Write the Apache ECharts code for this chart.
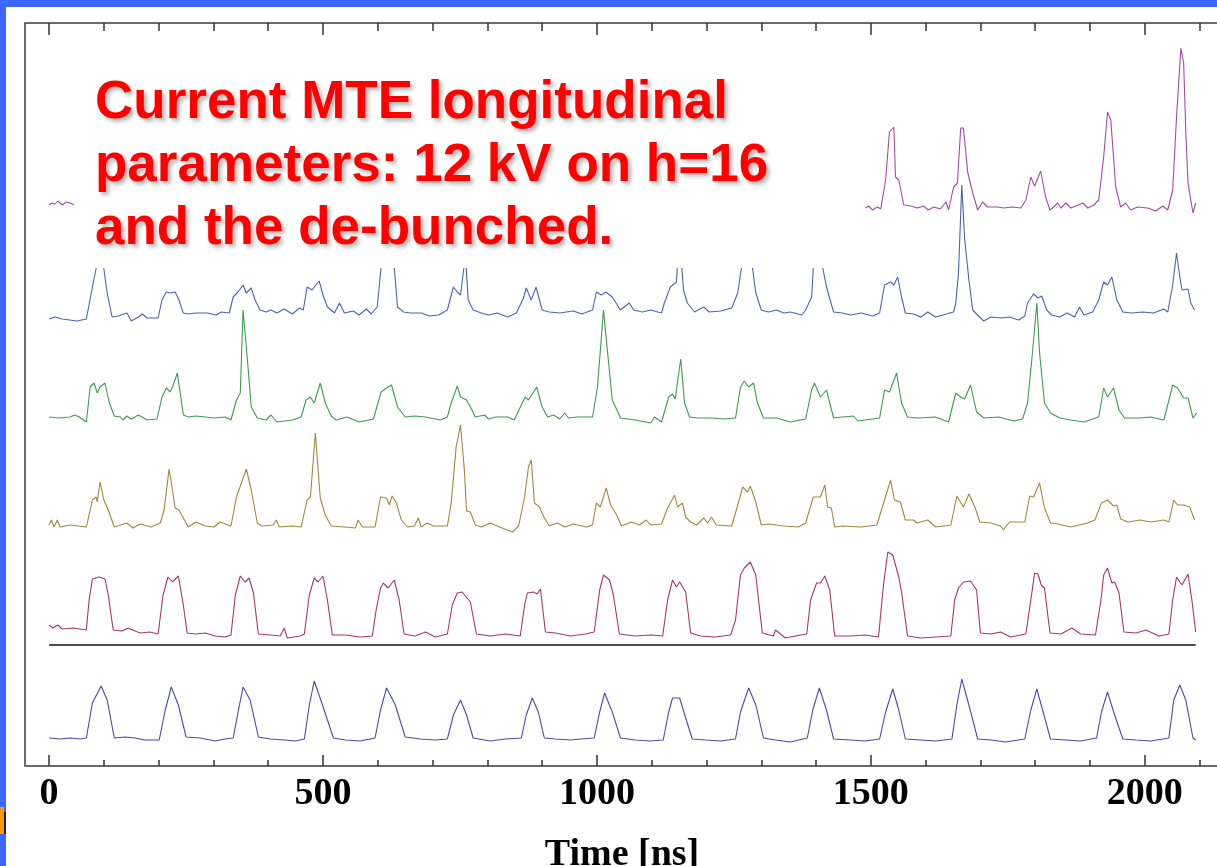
<!DOCTYPE html>
<html>
<head>
<meta charset="utf-8">
<script src="https://cdn.jsdelivr.net/npm/echarts@6/dist/echarts.min.js"></script>
<style>
html,body{margin:0;padding:0;background:#fff;}
#chart{position:absolute;left:0;top:0;width:1217px;height:866px;}
</style>
</head>
<body>
<div id="chart"></div>
<script>
// ---- axis ticks (ns) ----
const majorTicks = [0, 500, 1000, 1500, 2000];
const minorTicks = [100, 200, 300, 400, 600, 700, 800, 900, 1100, 1200, 1300, 1400, 1600, 1700, 1800, 1900, 2100, 2200];

// ---- vertical display offsets of each trace (a.u.) ----
const offsets = { t1: 2.7, sep: 12.1, t2: 13.4, t3: 24.1, t4: 34.8, t5: 45.1, t6: 55.8 };

// ---- separator line (time range) ----
const separator = [[0, 0], [2093, 0]];

// ---- trace 1 (bottom, de-bunched reference) [ns, signal] ----
const trace1 = [[0,0.1],[20,0],[38,0.1],[57,0],[68,0.1],[79,3.6],[95,5.3],[106,3.9],[119,0.1],[139,0.2],[157,0.1],[175,-0.1],[201,-0.1],[212,2.9],[223,5.2],[236,3.4],[250,0.2],[276,0.1],[303,-0.2],[321,0],[336,0.1],[345,2.7],[354,5.2],[367,3.9],[382,0.2],[404,0],[431,-0.1],[449,-0.2],[466,0],[475,3.4],[484,5.8],[499,3.4],[519,0.1],[541,-0.1],[568,-0.2],[595,0.1],[605,2.9],[616,5.1],[632,3.4],[650,0.2],[678,0],[705,-0.1],[727,0],[738,2.4],[751,3.9],[762,2.4],[774,0.1],[805,-0.2],[833,0],[862,0.1],[871,2.4],[882,4.1],[893,2.7],[904,0.1],[924,0],[952,-0.1],[970,0],[995,0.1],[1005,2.7],[1014,4.6],[1028,2.7],[1043,0.1],[1070,-0.1],[1098,-0.2],[1121,-0.1],[1131,2.7],[1138,4.1],[1151,4.1],[1162,2.1],[1174,0],[1198,-0.1],[1226,-0.2],[1253,0],[1262,2.7],[1277,5.1],[1290,3.4],[1304,0.1],[1326,-0.1],[1353,-0.3],[1384,0.1],[1394,2.9],[1406,5.1],[1419,2.9],[1432,0],[1463,-0.1],[1490,-0.2],[1516,0],[1527,2.7],[1540,5.0],[1551,2.9],[1563,0],[1591,-0.1],[1618,-0.2],[1648,0],[1657,3.4],[1666,6.0],[1679,3.4],[1695,0],[1719,-0.1],[1746,-0.3],[1781,0],[1792,2.9],[1803,5.0],[1816,2.4],[1828,0],[1856,-0.1],[1883,-0.2],[1912,0.1],[1921,2.7],[1932,4.7],[1945,2.4],[1960,0],[1984,-0.1],[2011,-0.2],[2044,0.1],[2053,3.9],[2064,5.4],[2075,3.9],[2088,0.1],[2093,-0.1]];

// ---- trace 2 (maroon) ----
const trace2 = [[0,0.7],[7,0.4],[16,0.7],[24,0.3],[44,0.4],[68,0.2],[73,3.2],[79,5.3],[91,5.5],[102,5.3],[108,3.7],[117,0.2],[133,0.1],[144,0.4],[166,-0.1],[184,0],[199,-0.2],[208,3.7],[217,5.5],[225,5.0],[236,5.6],[245,2.7],[252,-0.1],[267,-0.2],[285,-0.1],[303,-0.4],[321,-0.5],[332,-0.3],[340,3.7],[349,5.6],[358,5.0],[365,5.4],[373,3.9],[382,-0.2],[404,-0.3],[422,-0.4],[429,0.4],[435,-0.6],[458,-0.4],[466,-0.2],[475,3.7],[484,5.4],[491,5.0],[500,5.6],[508,3.2],[517,-0.3],[541,-0.3],[568,-0.5],[590,-0.4],[597,2.2],[605,4.4],[610,4.9],[619,4.4],[630,5.2],[639,3.2],[648,-0.2],[668,-0.4],[687,0],[705,-0.5],[727,-0.2],[736,2.7],[745,3.9],[754,4.0],[769,3.0],[780,-0.2],[805,-0.4],[833,-0.2],[860,-0.4],[868,2.7],[873,3.9],[884,4.0],[891,3.8],[897,4.3],[906,0],[924,-0.1],[952,-0.4],[979,-0.2],[995,0],[1005,4.2],[1012,5.7],[1023,5.2],[1030,3.7],[1041,-0.2],[1070,-0.4],[1098,-0.3],[1120,-0.4],[1129,3.2],[1138,5.2],[1145,4.5],[1151,5.0],[1162,4.0],[1171,-0.1],[1189,-0.4],[1216,-0.5],[1244,-0.3],[1253,1.2],[1262,5.7],[1269,6.4],[1280,7.0],[1290,5.7],[1295,3.2],[1302,-0.1],[1322,-0.4],[1326,0.2],[1344,-0.6],[1372,-0.3],[1383,-0.2],[1390,3.2],[1401,4.9],[1408,4.9],[1416,5.6],[1425,4.2],[1434,-0.4],[1463,-0.4],[1490,-0.3],[1514,-0.5],[1523,4.7],[1531,8.0],[1540,7.7],[1551,5.5],[1556,4.0],[1567,-0.4],[1591,-0.6],[1618,-0.5],[1646,-0.4],[1653,3.2],[1660,4.4],[1669,5.0],[1682,5.1],[1693,4.2],[1700,-0.1],[1719,-0.2],[1737,0],[1755,-0.5],[1783,-0.2],[1792,3.2],[1799,5.9],[1805,5.8],[1811,4.7],[1817,4.4],[1827,-0.1],[1847,-0.2],[1867,0.4],[1883,-0.2],[1910,-0.3],[1920,3.2],[1925,5.7],[1932,6.4],[1940,4.9],[1945,5.0],[1953,3.9],[1962,0],[1984,-0.1],[2002,0.2],[2026,-0.4],[2044,-0.2],[2051,3.2],[2058,5.5],[2068,4.7],[2079,5.8],[2086,3.2],[2093,0]];

// ---- trace 3 (olive) ----
const trace3 = [[0,0],[4,0.5],[9,-0.2],[15,0.5],[20,-0.2],[38,0],[68,-0.2],[79,2.5],[86,2.8],[88,2.3],[93,4.3],[100,2.5],[108,1.5],[119,-0.2],[142,0.2],[153,-0.3],[166,0.1],[186,-0.2],[203,0.2],[210,1.5],[219,5.6],[226,3.2],[230,1.7],[237,1.5],[247,0.5],[254,-0.2],[268,0.3],[285,-0.1],[301,-0.2],[312,0.3],[332,-0.1],[342,2.8],[360,5.6],[369,3.5],[380,0.2],[389,-0.1],[409,0],[415,0.5],[420,-0.2],[444,-0.1],[460,-0.2],[471,2.5],[477,2.8],[486,9.2],[495,2.7],[504,1.0],[515,-0.1],[539,-0.2],[559,-0.3],[564,0.5],[572,-0.2],[595,-0.2],[605,2.8],[616,2.7],[621,2.0],[626,2.9],[634,2.2],[643,0.5],[654,-0.2],[667,-0.1],[674,0.7],[679,-0.2],[690,0.2],[701,-0.1],[727,-0.1],[734,2.2],[743,7.8],[751,10.0],[758,5.5],[762,1.4],[769,1.3],[778,0],[789,-0.2],[805,0.2],[822,-0.2],[846,-0.7],[857,-0.1],[868,2.8],[875,5.8],[880,6.5],[886,2.2],[895,1.8],[904,0.7],[913,-0.1],[928,0.2],[941,-0.2],[957,0.1],[981,-0.2],[992,0],[999,2.2],[1006,1.8],[1017,3.7],[1025,2.0],[1036,1.0],[1045,-0.1],[1063,0.3],[1078,0],[1090,0.5],[1098,0],[1118,0.1],[1129,1.7],[1142,3.0],[1147,1.8],[1156,2.2],[1162,0.8],[1171,0.3],[1182,0],[1195,0.7],[1202,0.2],[1209,0.8],[1218,0],[1246,-0.1],[1258,2.2],[1266,3.8],[1275,3.3],[1280,3.9],[1290,2.3],[1300,0],[1313,0.1],[1341,-0.1],[1368,-0.2],[1381,0.2],[1395,2.8],[1408,2.8],[1416,4.0],[1421,1.8],[1428,1.7],[1434,-0.2],[1448,-0.1],[1483,-0.2],[1511,0],[1525,2.5],[1536,4.5],[1543,2.5],[1554,2.3],[1563,0.5],[1578,0.5],[1584,0.2],[1604,0.5],[1618,-0.2],[1646,0],[1657,2.9],[1669,1.8],[1679,3.1],[1690,1.8],[1699,0.3],[1719,0.2],[1737,-0.1],[1742,-0.5],[1753,0.3],[1781,0.3],[1790,2.9],[1797,2.8],[1808,4.2],[1817,1.7],[1828,0.2],[1841,0.1],[1865,-0.2],[1896,0.2],[1909,0.5],[1921,2.2],[1932,2.5],[1943,1.9],[1949,2.0],[1956,0.6],[1969,0.3],[1991,0.5],[2011,0.3],[2035,0.5],[2044,0.3],[2053,2.5],[2060,2.0],[2071,2.0],[2082,1.8],[2091,0.5]];

// ---- trace 4 (green) ----
const trace4 = [[0,0.1],[18,0],[38,0.1],[47,0.3],[55,0.1],[68,-0.4],[75,3.1],[82,3.5],[88,2.5],[93,3.1],[102,3.5],[110,1.5],[119,0.2],[130,0.1],[135,-0.2],[142,0.2],[150,-0.1],[163,0.3],[179,-0.2],[197,-0.1],[206,2.1],[214,3.0],[221,2.6],[226,3.2],[234,4.5],[239,2.6],[245,0.3],[254,0.1],[268,0.2],[285,0.1],[301,0],[321,0.1],[332,-0.2],[342,1.8],[349,2.5],[354,10.8],[362,5.8],[369,1.1],[380,0],[396,-0.2],[405,0.3],[416,-0.4],[444,-0.2],[460,0.1],[469,1.8],[477,2.1],[484,1.5],[495,3.5],[504,1.5],[515,0.2],[524,-0.2],[544,0.1],[566,-0.4],[592,-0.1],[606,2.6],[616,3.0],[625,3.3],[636,1.1],[650,0.1],[667,0.2],[687,0.1],[714,-0.2],[727,0.1],[734,1.5],[745,3.2],[751,2.1],[762,1.8],[769,1.1],[778,0.1],[795,0.3],[802,-0.1],[816,0.1],[837,0.1],[849,-0.2],[869,2.1],[875,1.8],[890,3.1],[900,1.1],[910,0.1],[921,0.3],[932,-0.1],[941,0.5],[948,0],[964,0.1],[992,0.1],[1001,3.1],[1012,10.8],[1019,6.8],[1028,1.8],[1039,0.5],[1043,0],[1070,-0.2],[1098,-0.5],[1105,0.1],[1118,-0.4],[1131,2.1],[1138,2.4],[1143,1.9],[1147,3.6],[1153,5.9],[1160,1.5],[1169,0.1],[1185,0],[1209,0],[1233,-0.1],[1253,0],[1262,3.1],[1269,3.7],[1277,3.1],[1286,3.5],[1293,1.5],[1304,0],[1328,0],[1353,-0.4],[1381,-0.1],[1392,2.8],[1397,3.5],[1408,2.1],[1419,2.8],[1432,0],[1448,0.1],[1468,0.2],[1476,-0.3],[1503,-0.1],[1516,0],[1525,2.8],[1534,2.6],[1547,4.5],[1556,1.5],[1567,0.1],[1584,0],[1618,0.1],[1642,-0.4],[1655,2.5],[1664,2.1],[1671,1.9],[1682,3.3],[1693,0.6],[1706,0],[1733,0.1],[1761,-0.3],[1777,-0.1],[1786,1.5],[1795,6.5],[1803,11.5],[1808,6.5],[1817,1.5],[1828,0.5],[1845,0],[1865,-0.2],[1889,-0.4],[1916,0.1],[1925,3.0],[1932,2.1],[1943,3.0],[1953,0.8],[1963,0],[1991,0],[2011,0.1],[2035,-0.2],[2051,3.3],[2060,3.0],[2071,2.0],[2079,2.0],[2088,0],[2095,0.5]];

// ---- trace 5 (blue) ----
const trace5 = [[0,-0.4],[11,-0.2],[24,-0.4],[51,-0.6],[68,-0.4],[79,2.8],[86,4.7],[91,6.0],[97,5.8],[106,2.2],[115,-0.2],[126,-0.1],[142,0.2],[150,-0.6],[163,-0.2],[170,0.1],[179,-0.3],[199,-0.3],[206,1.5],[214,2.3],[221,2.2],[230,2.3],[237,1.5],[245,0.2],[254,0.1],[268,0.2],[289,0.2],[305,0],[314,0.3],[329,0.2],[336,1.8],[345,2.3],[354,3.0],[360,2.2],[369,2.7],[376,1.5],[385,0.5],[396,0.3],[405,0.5],[416,0.2],[429,0.6],[444,0.1],[457,0.7],[464,0.5],[471,2.8],[480,2.5],[493,3.4],[500,2.0],[508,0.8],[521,0.2],[530,1.2],[539,0.2],[555,0.4],[566,0],[579,0.6],[588,0.1],[599,0.8],[606,4.8],[617,9.0],[626,8.5],[630,4.8],[636,0.8],[647,0.3],[659,0.2],[679,0.2],[694,-0.1],[711,0],[727,0.5],[738,2.8],[745,2.3],[751,2.0],[760,6.0],[765,1.5],[774,0.5],[789,0.2],[802,0],[818,0.2],[837,-0.2],[853,0.2],[866,1.7],[871,2.7],[880,1.5],[889,2.8],[900,0.5],[913,0.3],[932,0.2],[944,0.3],[957,0.4],[972,0.1],[992,0.5],[999,2.3],[1008,2.0],[1016,2.3],[1028,1.8],[1043,0.5],[1059,1.2],[1067,0.5],[1083,0.3],[1098,0.5],[1118,0.2],[1123,1.2],[1134,2.8],[1145,3.3],[1149,6.5],[1154,5.5],[1158,2.5],[1165,1.2],[1178,0.3],[1195,0.8],[1205,0.3],[1226,0.4],[1246,0.7],[1257,2.2],[1266,5.5],[1275,9.0],[1282,5.5],[1290,2.2],[1300,0.5],[1313,0.3],[1328,0.5],[1341,0.2],[1353,0.3],[1374,0],[1381,0.5],[1392,1.8],[1395,4.8],[1403,9.0],[1412,4.8],[1419,2.8],[1432,0.3],[1448,0.2],[1463,0],[1483,0.2],[1503,-0.1],[1516,0.2],[1525,3.0],[1536,3.3],[1542,3.0],[1549,3.8],[1556,1.8],[1563,0.2],[1578,0.1],[1591,-0.2],[1604,0.3],[1618,-0.2],[1638,0.1],[1651,0.3],[1655,1.2],[1660,4.2],[1666,13.0],[1671,7.8],[1679,3.5],[1686,0.5],[1693,0.1],[1706,-0.6],[1719,-0.2],[1739,-0.3],[1753,-0.2],[1770,-0.5],[1781,-0.1],[1786,1.2],[1797,2.1],[1805,1.7],[1812,1.9],[1821,0.5],[1830,0],[1845,-0.2],[1858,0.2],[1872,-0.2],[1881,0.8],[1889,0],[1905,0.3],[1916,1.5],[1925,3.3],[1932,3.0],[1940,3.8],[1949,1.5],[1960,0.3],[1976,0.2],[1996,0.3],[2016,0.2],[2035,0.6],[2042,0.3],[2051,3.0],[2058,6.2],[2064,3.8],[2068,2.5],[2079,2.6],[2084,1.2],[2091,0.5]];

// ---- trace 6 (purple): visible start and visible end ----
const trace6a = [[0,0.3],[5,0.5],[11,0.4],[16,0.7],[24,0.3],[31,0.6],[38,0.5],[46,0.3]];
const trace6b = [[1490,0],[1496,0.2],[1503,-0.2],[1512,0.1],[1518,-0.1],[1527,2.8],[1534,7.6],[1542,8.1],[1545,3.1],[1551,2.8],[1560,0.3],[1573,0.2],[1585,0],[1596,0.2],[1605,-0.2],[1615,0.1],[1627,-0.1],[1637,0.6],[1642,-0.2],[1651,2.1],[1658,2.5],[1664,8.0],[1669,8.0],[1677,3.5],[1686,1.5],[1695,-0.2],[1704,0.6],[1713,0.1],[1732,0.1],[1742,0],[1759,0.1],[1774,0],[1783,0.8],[1792,3.1],[1799,2.2],[1810,3.7],[1819,1.1],[1827,-0.2],[1834,0.1],[1841,0.5],[1847,0],[1856,0.5],[1865,0],[1887,0.5],[1896,0],[1907,0.3],[1916,0.8],[1925,5.1],[1932,9.6],[1938,8.8],[1947,2.1],[1956,0.1],[1965,0.5],[1974,-0.2],[1987,0.1],[2005,0],[2020,-0.3],[2033,0.2],[2042,-0.2],[2051,1.8],[2058,9.1],[2066,16.0],[2071,14.5],[2075,7.5],[2079,2.5],[2084,0.8],[2088,-0.5],[2093,0.5]];

const annotation = 'Current MTE longitudinal\nparameters: 12 kV on h=16\nand the de-bunched.';

// ------------------------------------------------------------
function shift(arr, off) { return arr.map(p => [p[0], p[1] + off]); }

const chart = echarts.init(document.getElementById('chart'), null, { renderer: 'canvas' });

const tickColor = '#333';
const serifFont = '"Liberation Serif", "Times New Roman", serif';

function lineSeries(data, off, color, width) {
  return {
    type: 'line', data: shift(data, off), showSymbol: false, symbol: 'none',
    lineStyle: { color: color, width: width || 1.1 }, itemStyle: { color: color },
    animation: false, silent: true, xAxisIndex: 0, yAxisIndex: 0
  };
}

const option = {
  backgroundColor: '#ffffff',
  animation: false,
  grid: {
    left: 25, top: 23, width: 1260, height: 743,
    show: true, borderColor: '#3a3a3a', borderWidth: 1.5, backgroundColor: 'transparent',
    outerBoundsMode: 'none', containLabel: false
  },
  xAxis: [
    {
      type: 'value', position: 'bottom', min: -44, max: 2256,
      axisLine: { show: false }, splitLine: { show: false },
      axisTick: { show: true, customValues: majorTicks, inside: true, length: 11, lineStyle: { color: tickColor, width: 1.5 } },
      axisLabel: { show: true, customValues: majorTicks, margin: 9, color: '#000', fontFamily: serifFont, fontWeight: 'bold', fontSize: 38,
        formatter: v => String(v) },
      name: 'Time [ns]', nameLocation: 'middle', nameGap: 70,
      nameTextStyle: { color: '#000', fontFamily: serifFont, fontWeight: 'bold', fontSize: 38, padding: [0, 66, 0, 0] }
    },
    {
      type: 'value', position: 'bottom', min: -44, max: 2256,
      axisLine: { show: false }, splitLine: { show: false },
      axisTick: { show: true, customValues: minorTicks, inside: true, length: 6, lineStyle: { color: tickColor, width: 1.5 } },
      axisLabel: { show: false }
    },
    {
      type: 'value', position: 'top', min: -44, max: 2256,
      axisLine: { show: false }, splitLine: { show: false },
      axisTick: { show: true, customValues: majorTicks, inside: true, length: 12, lineStyle: { color: tickColor, width: 1.5 } },
      axisLabel: { show: false }
    },
    {
      type: 'value', position: 'top', min: -44, max: 2256,
      axisLine: { show: false }, splitLine: { show: false },
      axisTick: { show: true, customValues: minorTicks, inside: true, length: 8, lineStyle: { color: tickColor, width: 1.5 } },
      axisLabel: { show: false }
    }
  ],
  yAxis: {
    type: 'value', min: 0, max: 74.3, show: false, splitLine: { show: false }
  },
  series: [
    lineSeries(trace1, offsets.t1, '#4a4aa8'),
    lineSeries(separator, offsets.sep, '#111111', 1.5),
    lineSeries(trace2, offsets.t2, '#a3386e'),
    lineSeries(trace3, offsets.t3, '#9e8a3c'),
    lineSeries(trace4, offsets.t4, '#3f9a52'),
    lineSeries(trace5, offsets.t5, '#4c64a8'),
    lineSeries(trace6a, offsets.t6, '#a24ca2'),
    lineSeries(trace6b, offsets.t6, '#a24ca2')
  ],
  graphic: {
    elements: [
      { type: 'rect', z: 100, silent: true, shape: { x: 74, y: 55, width: 790, height: 213 }, style: { fill: '#ffffff' } },
      { type: 'text', z: 101, silent: true, x: 95, y: 72,
        style: {
          text: annotation, fill: '#ff0000', fontSize: 53, fontWeight: 'bold',
          fontFamily: '"Liberation Sans", Arial, sans-serif', lineHeight: 63,
          textShadowColor: 'rgba(0,0,0,0.3)', textShadowBlur: 4, textShadowOffsetX: 3, textShadowOffsetY: 3,
          verticalAlign: 'top', align: 'left'
        } },
      { type: 'rect', z: 110, silent: true, shape: { x: 0, y: 0, width: 1217, height: 7 }, style: { fill: '#3c66fc' } },
      { type: 'rect', z: 110, silent: true, shape: { x: 0, y: 0, width: 6, height: 866 }, style: { fill: '#3c66fc' } },
      { type: 'rect', z: 111, silent: true, shape: { x: 0, y: 807, width: 4, height: 27 }, style: { fill: '#ff9900' } },
      { type: 'rect', z: 111, silent: true, shape: { x: 4, y: 812, width: 2, height: 22 }, style: { fill: '#222222' } }
    ]
  }
};

chart.setOption(option);
</script>
</body>
</html>
